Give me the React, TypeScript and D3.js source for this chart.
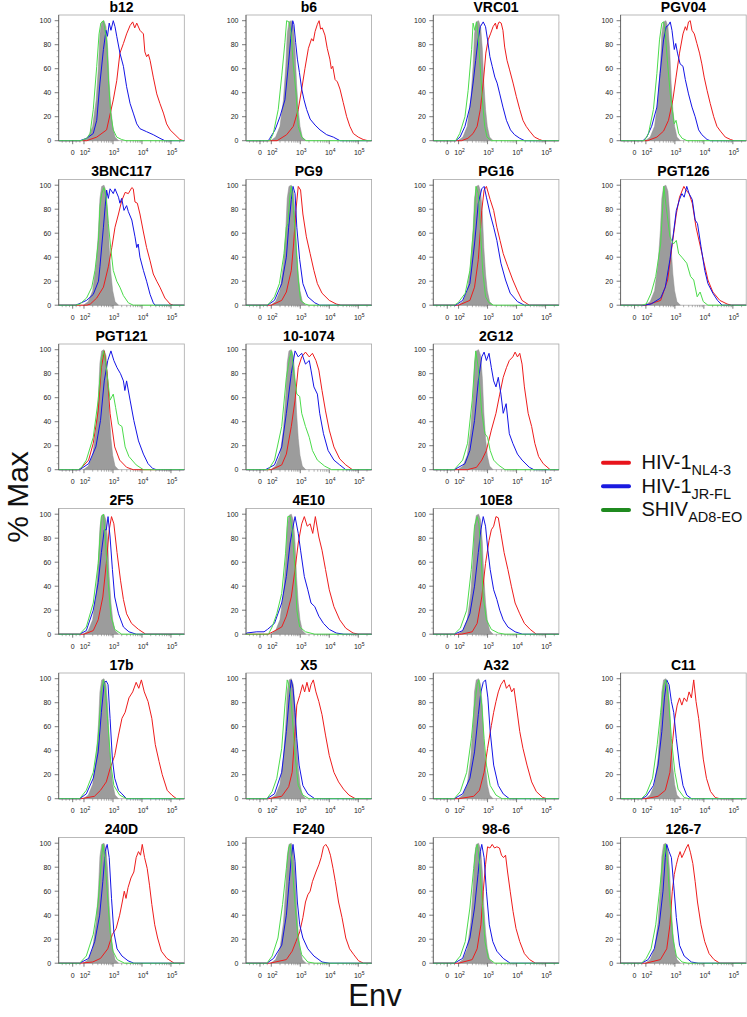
import React from 'react';
import * as d3 from 'd3';

type Pt = [number, number];

// x values are log10(Env fluorescence) display units, y values are % Max
const ENV_DOMAIN: [number, number] = [1.128, 5.46];
const ZERO_POS = 1.61;
const DECADES = [2, 3, 4, 5];
const Y_TICKS = [0, 20, 40, 60, 80, 100];

const LAYOUT: (string | null)[][] = [
  ['b12', 'b6', 'VRC01', 'PGV04'],
  ['3BNC117', 'PG9', 'PG16', 'PGT126'],
  ['PGT121', '10-1074', '2G12', null],
  ['2F5', '4E10', '10E8', null],
  ['17b', 'X5', 'A32', 'C11'],
  ['240D', 'F240', '98-6', '126-7'],
];

const GRAY: Pt[] = [[1.98,0],[2.15,3],[2.30,12],[2.42,34],[2.50,62],[2.55,89],[2.61,99],[2.69,100],[2.76,95],[2.82,76],[2.87,48],[2.93,26],[2.99,12],[3.07,3],[3.19,0]];

const B12_GREEN: Pt[] = [[1.9,0],[2.09,2],[2.21,6],[2.32,26],[2.44,62],[2.52,89],[2.58,98],[2.67,100],[2.78,84],[2.85,48],[2.92,23],[3.01,9],[3.13,3],[3.30,1],[3.45,0]];
const B12_BLUE: Pt[] = [[1.86,0],[2.09,2],[2.32,6],[2.44,17],[2.55,48],[2.67,76],[2.76,92],[2.81,87],[2.87,98],[2.93,92],[3.01,100],[3.07,95],[3.13,87],[3.24,73],[3.36,62],[3.47,45],[3.59,31],[3.70,23],[3.82,14],[3.93,10],[4.16,7.5],[4.39,5],[4.62,2],[4.79,0]];
const B12_RED: Pt[] = [[2.09,0],[2.44,3],[2.78,9],[3.01,34],[3.13,50],[3.24,73],[3.36,81],[3.47,89],[3.59,96],[3.68,99],[3.75,94],[3.82,98],[3.93,92],[4.05,89],[4.10,74],[4.16,70],[4.22,72],[4.28,67],[4.39,53],[4.51,39],[4.62,31],[4.74,23],[4.85,14],[4.97,9],[5.14,5],[5.31,1],[5.43,0]];

const B6_GREEN: Pt[] = [[1.95,0],[2.07,6],[2.24,26],[2.36,54],[2.47,82],[2.53,100],[2.61,99],[2.68,91],[2.76,63],[2.85,40],[2.93,12],[3.05,3],[3.2,0]];
const B6_BLUE: Pt[] = [[1.9,0],[1.95,2],[2.13,9],[2.30,20],[2.47,34],[2.59,63],[2.67,85],[2.74,100],[2.78,97],[2.84,82],[2.90,68],[2.97,57],[3.05,43],[3.13,34],[3.22,26],[3.34,18],[3.51,13],[3.68,9],[3.91,5],[4.14,3],[4.37,0]];
const B6_RED: Pt[] = [[2.2,0],[2.53,5],[2.76,12],[2.93,26],[3.05,43],[3.16,60],[3.28,77],[3.39,85],[3.45,83],[3.51,91],[3.59,97],[3.65,100],[3.70,93],[3.76,94],[3.85,88],[3.93,77],[4.02,68],[4.07,60],[4.12,62],[4.20,51],[4.28,49],[4.37,43],[4.48,32],[4.60,20],[4.71,12],[4.83,6],[5.0,3],[5.17,1],[5.33,0]];

const VRC01_GREEN: Pt[] = [[1.9,0],[2.04,6],[2.22,20],[2.33,42],[2.45,76],[2.50,98],[2.56,92],[2.62,99],[2.67,89],[2.73,67],[2.82,34],[2.90,12],[2.98,3],[3.13,0]];
const VRC01_BLUE: Pt[] = [[1.9,0],[2.05,3],[2.22,12],[2.39,28],[2.50,48],[2.59,67],[2.67,84],[2.75,95],[2.85,99],[2.93,95],[3.0,84],[3.08,70],[3.16,62],[3.25,53],[3.33,48],[3.42,39],[3.53,28],[3.65,17],[3.79,9],[3.93,5],[4.11,2],[4.28,0]];
const VRC01_RED: Pt[] = [[2.1,0],[2.32,2],[2.50,6],[2.64,12],[2.75,26],[2.85,48],[2.94,73],[3.02,84],[3.10,89],[3.19,95],[3.27,98],[3.32,93],[3.36,97],[3.40,99],[3.47,98],[3.53,92],[3.59,78],[3.67,67],[3.76,59],[3.88,48],[3.99,37],[4.11,26],[4.22,17],[4.33,12],[4.45,8],[4.62,3],[4.79,1],[4.9,0]];

const PGV04_GREEN: Pt[] = [[1.95,0],[2.09,6],[2.26,26],[2.38,56],[2.47,84],[2.55,98],[2.61,99],[2.66,92],[2.74,67],[2.84,39],[2.91,26],[2.98,14],[3.04,17],[3.13,6],[3.25,2],[3.42,0]];
const PGV04_BLUE: Pt[] = [[1.9,0],[2.03,3],[2.20,12],[2.38,28],[2.49,56],[2.61,84],[2.70,95],[2.77,96],[2.84,99],[2.90,92],[2.98,76],[3.03,81],[3.09,73],[3.18,64],[3.28,62],[3.36,51],[3.47,39],[3.59,28],[3.70,20],[3.82,9],[3.93,5],[4.11,1],[4.22,0]];
const PGV04_RED: Pt[] = [[2.05,0],[2.38,3],[2.61,8],[2.78,17],[2.93,34],[3.04,53],[3.16,73],[3.28,89],[3.36,95],[3.41,92],[3.47,99],[3.53,100],[3.59,92],[3.67,89],[3.76,81],[3.85,73],[3.93,64],[4.01,53],[4.11,42],[4.22,31],[4.34,20],[4.45,12],[4.57,8],[4.74,3],[4.92,1],[5.04,0]];

const BNC_GREEN: Pt[] = [[1.7,0],[1.86,1],[2.09,6],[2.27,15],[2.38,29],[2.50,54],[2.55,82],[2.61,93],[2.69,98],[2.76,90],[2.84,68],[2.93,46],[3.01,29],[3.13,20],[3.24,15],[3.36,8],[3.53,2],[3.70,0]];
const BNC_BLUE: Pt[] = [[1.7,0],[1.81,1],[2.09,4],[2.32,9],[2.50,20],[2.55,32],[2.67,65],[2.73,82],[2.78,96],[2.84,89],[2.90,97],[3.01,93],[3.07,97],[3.19,90],[3.24,85],[3.30,89],[3.38,79],[3.47,83],[3.53,78],[3.65,71],[3.76,57],[3.82,48],[3.87,51],[3.93,40],[4.05,29],[4.16,20],[4.28,9],[4.39,2],[4.45,0]];
const BNC_RED: Pt[] = [[2.1,0],[2.22,1],[2.44,6],[2.67,15],[2.84,32],[2.96,48],[3.07,65],[3.19,76],[3.30,87],[3.42,94],[3.53,93],[3.65,98],[3.70,97],[3.76,86],[3.84,85],[3.93,76],[4.05,61],[4.16,48],[4.28,37],[4.39,26],[4.51,20],[4.62,15],[4.79,6],[4.97,1],[5.08,0]];

const PG9_GREEN: Pt[] = [[1.85,0],[1.95,2],[2.11,7],[2.28,18],[2.44,43],[2.52,65],[2.57,68],[2.65,93],[2.70,99],[2.77,79],[2.85,51],[2.93,21],[3.01,4],[3.17,1],[3.3,0]];
const PG9_BLUE: Pt[] = [[1.87,0],[2.11,4],[2.36,18],[2.52,40],[2.60,65],[2.69,88],[2.75,99],[2.82,93],[2.88,65],[2.98,38],[3.09,18],[3.26,7],[3.50,2],[3.67,0]];
const PG9_RED: Pt[] = [[2.0,0],[2.36,4],[2.52,11],[2.69,29],[2.77,51],[2.85,79],[2.93,99],[3.01,96],[3.09,76],[3.21,57],[3.34,43],[3.47,29],[3.59,18],[3.75,10],[4.0,4],[4.24,1],[4.4,0]];

const PG16_GREEN: Pt[] = [[1.85,0],[1.98,2],[2.23,10],[2.39,29],[2.52,65],[2.60,99],[2.68,93],[2.75,65],[2.83,29],[2.93,7],[3.05,2],[3.21,0]];
const PG16_BLUE: Pt[] = [[1.9,0],[2.14,4],[2.39,18],[2.55,51],[2.68,85],[2.80,97],[2.88,99],[2.96,90],[3.09,76],[3.21,65],[3.32,54],[3.46,35],[3.62,21],[3.78,10],[4.03,3],[4.27,0]];
const PG16_RED: Pt[] = [[2.0,0],[2.39,4],[2.55,15],[2.68,38],[2.80,79],[2.88,96],[2.96,99],[3.09,88],[3.21,79],[3.32,65],[3.43,54],[3.54,43],[3.70,32],[3.87,21],[4.03,12],[4.19,4],[4.44,0]];

const PGT126_GREEN: Pt[] = [[1.85,0],[2.01,1],[2.18,10],[2.34,24],[2.51,51],[2.62,99],[2.70,82],[2.83,57],[2.95,51],[3.05,54],[3.13,43],[3.24,40],[3.41,35],[3.54,24],[3.65,21],[3.77,7],[3.87,11],[3.98,3],[4.14,0]];
const PGT126_BLUE: Pt[] = [[1.9,0],[2.18,1],[2.51,6],[2.67,15],[2.83,38],[2.95,60],[3.05,79],[3.16,88],[3.24,93],[3.32,90],[3.41,99],[3.49,93],[3.60,88],[3.70,71],[3.78,68],[3.90,49],[4.03,29],[4.14,18],[4.31,10],[4.47,4],[4.63,0]];
const PGT126_RED: Pt[] = [[2.0,0],[2.51,4],[2.75,21],[2.91,51],[3.05,76],[3.16,90],[3.21,93],[3.31,99],[3.38,96],[3.49,93],[3.60,85],[3.73,65],[3.86,51],[3.98,38],[4.14,21],[4.31,11],[4.55,4],[4.8,1],[4.95,0]];

const PGT121_GREEN: Pt[] = [[1.8,0],[1.92,2],[2.08,8],[2.32,27],[2.49,58],[2.60,91],[2.68,99],[2.77,85],[2.90,58],[3.01,63],[3.09,52],[3.19,38],[3.31,36],[3.42,19],[3.55,11],[3.80,4],[4.05,0]];
const PGT121_BLUE: Pt[] = [[1.85,0],[2.16,5],[2.41,19],[2.57,41],[2.70,74],[2.82,91],[2.93,99],[3.03,91],[3.14,85],[3.26,80],[3.36,74],[3.41,66],[3.47,74],[3.59,58],[3.72,41],[3.88,24],[4.05,13],[4.21,5],[4.37,1],[4.5,0]];
const PGT121_RED: Pt[] = [[1.85,0],[2.16,8],[2.32,22],[2.49,49],[2.60,85],[2.70,99],[2.80,80],[2.90,47],[3.06,19],[3.23,8],[3.47,2],[3.7,0]];

const X1074_GREEN: Pt[] = [[1.9,0],[2.11,8],[2.36,36],[2.52,77],[2.64,94],[2.70,99],[2.78,80],[2.88,63],[2.98,61],[3.05,47],[3.18,36],[3.31,27],[3.42,16],[3.59,8],[3.84,3],[4.08,0]];
const X1074_BLUE: Pt[] = [[1.8,0],[2.11,4],[2.36,19],[2.52,47],[2.69,80],[2.82,99],[2.93,94],[3.05,97],[3.18,88],[3.31,91],[3.37,83],[3.47,69],[3.59,63],[3.67,47],[3.80,30],[3.96,16],[4.16,8],[4.36,4],[4.57,0]];
const X1074_RED: Pt[] = [[2.0,0],[2.36,4],[2.52,13],[2.69,36],[2.82,58],[2.93,85],[3.05,94],[3.18,98],[3.31,94],[3.42,97],[3.54,91],[3.64,83],[3.75,66],[3.87,49],[4.0,33],[4.16,19],[4.36,9],[4.57,4],[4.8,0]];

const G12_GREEN: Pt[] = [[1.85,0],[2.14,8],[2.31,22],[2.47,58],[2.59,99],[2.68,85],[2.80,47],[2.91,30],[3.0,27],[3.09,16],[3.21,8],[3.37,4],[3.6,0]];
const G12_BLUE: Pt[] = [[1.85,0],[2.22,5],[2.39,16],[2.55,41],[2.68,74],[2.80,94],[2.88,98],[2.96,91],[3.05,97],[3.13,85],[3.21,74],[3.29,69],[3.37,77],[3.46,63],[3.54,47],[3.64,55],[3.75,30],[3.87,22],[4.03,13],[4.19,8],[4.44,2],[4.6,0]];
const G12_RED: Pt[] = [[2.3,0],[2.62,2],[2.80,8],[2.96,16],[3.13,33],[3.29,47],[3.42,63],[3.54,77],[3.65,85],[3.75,91],[3.87,94],[3.95,98],[4.03,94],[4.11,97],[4.19,88],[4.27,69],[4.40,47],[4.52,36],[4.63,22],[4.76,11],[4.92,5],[5.16,0]];

const F5_GREEN: Pt[] = [[1.85,0],[2.08,6],[2.32,26],[2.49,59],[2.60,98],[2.67,100],[2.73,81],[2.83,45],[2.93,15],[3.06,4],[3.3,0]];
const F5_BLUE: Pt[] = [[1.85,0],[2.08,3],[2.32,20],[2.49,43],[2.60,68],[2.70,87],[2.77,87],[2.83,98],[2.90,81],[2.98,54],[3.06,31],[3.19,17],[3.36,6],[3.55,2],[3.8,0]];
const F5_RED: Pt[] = [[2.0,0],[2.32,3],[2.49,12],[2.65,31],[2.77,59],[2.87,87],[2.95,98],[3.03,92],[3.14,68],[3.26,45],[3.36,29],[3.47,17],[3.64,9],[3.88,4],[4.13,0]];

const E10_GREEN: Pt[] = [[1.9,0],[2.03,6],[2.19,17],[2.36,34],[2.49,67],[2.57,98],[2.65,98],[2.72,87],[2.82,54],[2.88,20],[2.98,6],[3.18,2],[3.5,0]];
const E10_BLUE: Pt[] = [[1.15,1],[1.5,2],[1.75,2],[1.87,4],[2.11,9],[2.36,26],[2.52,48],[2.65,76],[2.73,87],[2.82,98],[2.93,84],[3.01,70],[3.14,48],[3.26,37],[3.37,26],[3.50,23],[3.64,15],[3.80,9],[4.0,4],[4.24,1],[4.5,0]];
const E10_RED: Pt[] = [[1.9,0],[2.36,6],[2.52,15],[2.69,31],[2.82,54],[2.93,76],[3.05,92],[3.14,98],[3.24,90],[3.34,92],[3.43,84],[3.52,98],[3.64,81],[3.75,70],[3.87,54],[4.0,37],[4.16,23],[4.36,12],[4.57,5],[4.82,1],[5.0,0]];

const E8_GREEN: Pt[] = [[1.85,0],[2.06,5],[2.28,20],[2.44,54],[2.55,90],[2.64,98],[2.70,92],[2.77,68],[2.85,31],[2.96,12],[3.13,4],[3.37,1],[3.6,0]];
const E8_BLUE: Pt[] = [[1.85,0],[2.14,3],[2.39,17],[2.55,40],[2.68,68],[2.77,87],[2.85,98],[2.93,90],[3.01,70],[3.09,54],[3.21,37],[3.32,29],[3.42,20],[3.54,12],[3.70,6],[3.95,2],[4.2,0]];
const E8_RED: Pt[] = [[2.1,0],[2.47,2],[2.64,9],[2.80,31],[2.93,59],[3.05,78],[3.13,87],[3.21,90],[3.29,98],[3.37,97],[3.46,84],[3.57,68],[3.70,54],[3.82,40],[3.95,26],[4.11,17],[4.27,9],[4.47,4],[4.68,0]];

const B17_GREEN: Pt[] = [[1.85,0],[2.08,7],[2.32,22],[2.49,50],[2.60,89],[2.67,99],[2.73,92],[2.83,61],[2.93,28],[3.03,11],[3.23,3],[3.47,0]];
const B17_BLUE: Pt[] = [[1.85,0],[2.08,4],[2.32,17],[2.49,39],[2.60,72],[2.70,97],[2.77,98],[2.83,95],[2.90,67],[2.98,33],[3.06,17],[3.19,7],[3.31,4],[3.47,0]];
const B17_RED: Pt[] = [[1.9,0],[2.36,2],[2.57,7],[2.77,14],[2.90,25],[3.06,36],[3.19,53],[3.31,67],[3.42,72],[3.55,84],[3.68,89],[3.80,97],[3.89,92],[3.98,99],[4.08,89],[4.21,81],[4.34,67],[4.46,45],[4.59,31],[4.70,20],[4.87,7],[5.03,3],[5.19,0]];

const X5_GREEN: Pt[] = [[1.85,0],[2.03,6],[2.19,17],[2.36,42],[2.47,78],[2.55,99],[2.64,92],[2.72,70],[2.82,36],[2.93,11],[3.09,3],[3.3,0]];
const X5_BLUE: Pt[] = [[1.85,0],[2.11,4],[2.36,22],[2.52,56],[2.62,84],[2.69,99],[2.75,92],[2.82,72],[2.88,50],[2.96,28],[3.09,11],[3.26,4],[3.5,0]];
const X5_RED: Pt[] = [[1.9,0],[2.36,2],[2.60,10],[2.72,22],[2.82,56],[2.88,78],[2.98,86],[3.08,95],[3.15,89],[3.23,97],[3.31,89],[3.37,95],[3.45,99],[3.54,89],[3.64,81],[3.75,70],[3.87,53],[4.0,36],[4.16,22],[4.32,14],[4.49,8],[4.68,3],[4.9,0]];

const A32_GREEN: Pt[] = [[1.85,0],[2.06,6],[2.28,22],[2.44,50],[2.55,78],[2.64,95],[2.70,99],[2.80,78],[2.88,50],[2.96,28],[3.09,11],[3.29,3],[3.5,0]];
const A32_BLUE: Pt[] = [[1.85,0],[2.14,4],[2.39,17],[2.55,39],[2.68,70],[2.77,89],[2.85,97],[2.93,99],[3.01,84],[3.09,56],[3.21,28],[3.37,11],[3.54,4],[3.75,0]];
const A32_RED: Pt[] = [[2.0,0],[2.52,2],[2.72,7],[2.88,22],[3.0,42],[3.13,61],[3.21,72],[3.29,81],[3.37,89],[3.46,95],[3.57,99],[3.65,92],[3.75,95],[3.83,89],[3.91,92],[3.99,78],[4.11,56],[4.22,42],[4.36,28],[4.52,14],[4.68,6],[4.90,1],[5.05,0]];

const C11_GREEN: Pt[] = [[1.85,0],[2.01,4],[2.23,17],[2.39,45],[2.51,72],[2.62,95],[2.69,99],[2.78,84],[2.88,50],[3.0,22],[3.11,8],[3.32,1],[3.5,0]];
const C11_BLUE: Pt[] = [[1.85,0],[2.01,2],[2.26,11],[2.42,28],[2.55,56],[2.64,84],[2.72,99],[2.80,95],[2.88,81],[2.96,72],[3.05,50],[3.16,28],[3.28,11],[3.41,3],[3.57,0]];
const C11_RED: Pt[] = [[2.0,0],[2.42,2],[2.67,7],[2.83,22],[2.91,45],[3.0,67],[3.08,78],[3.16,84],[3.24,78],[3.32,84],[3.41,81],[3.49,89],[3.57,84],[3.65,99],[3.73,81],[3.82,67],[3.90,50],[3.98,33],[4.09,17],[4.23,6],[4.39,1],[4.55,0]];

const D240_GREEN: Pt[] = [[1.85,0],[2.08,6],[2.32,24],[2.49,51],[2.59,82],[2.65,99],[2.72,88],[2.80,60],[2.90,26],[3.0,10],[3.15,3],[3.4,0]];
const D240_BLUE: Pt[] = [[1.85,0],[2.16,4],[2.37,18],[2.54,40],[2.65,68],[2.73,93],[2.80,99],[2.87,88],[2.95,54],[3.03,26],[3.14,12],[3.31,6],[3.52,2],[3.72,0]];
const D240_RED: Pt[] = [[1.85,0],[2.3,1],[2.57,4],[2.82,12],[2.98,24],[3.11,29],[3.23,40],[3.32,51],[3.39,60],[3.45,54],[3.52,63],[3.62,71],[3.72,76],[3.80,88],[3.88,93],[3.95,90],[4.01,99],[4.09,88],[4.18,79],[4.26,65],[4.34,49],[4.44,32],[4.54,21],[4.67,10],[4.86,4],[5.11,0]];

const F240_GREEN: Pt[] = [[1.85,0],[2.03,6],[2.23,21],[2.39,49],[2.52,79],[2.60,96],[2.65,99],[2.72,82],[2.82,49],[2.92,21],[3.05,7],[3.26,1],[3.5,0]];
const F240_BLUE: Pt[] = [[1.85,0],[2.08,4],[2.36,15],[2.52,40],[2.62,68],[2.69,88],[2.75,99],[2.82,85],[2.90,51],[2.98,32],[3.09,21],[3.26,12],[3.47,6],[3.75,1],[4.0,0]];
const F240_RED: Pt[] = [[1.95,0],[2.52,3],[2.72,10],[2.85,18],[2.98,26],[3.09,38],[3.18,51],[3.26,57],[3.34,60],[3.42,68],[3.54,76],[3.64,82],[3.72,88],[3.80,97],[3.88,99],[3.96,96],[4.04,90],[4.13,79],[4.21,68],[4.32,51],[4.44,38],[4.57,21],[4.70,12],[4.85,7],[5.01,2],[5.18,0]];

const S986_GREEN: Pt[] = [[1.85,0],[2.06,6],[2.23,18],[2.39,46],[2.52,79],[2.60,96],[2.65,99],[2.73,82],[2.82,49],[2.91,18],[3.03,4],[3.25,0]];
const S986_BLUE: Pt[] = [[1.85,0],[2.14,4],[2.39,21],[2.55,46],[2.67,74],[2.75,93],[2.80,99],[2.88,88],[2.96,60],[3.06,32],[3.18,18],[3.32,10],[3.54,4],[3.78,0]];
const S986_RED: Pt[] = [[2.0,0],[2.47,3],[2.64,12],[2.77,32],[2.85,60],[2.93,82],[3.0,97],[3.08,96],[3.16,99],[3.24,96],[3.32,97],[3.41,96],[3.48,90],[3.55,88],[3.62,90],[3.69,76],[3.78,60],[3.88,43],[3.98,29],[4.11,18],[4.27,8],[4.45,3],[4.65,0]];

const S1267_GREEN: Pt[] = [[1.85,0],[2.01,4],[2.18,12],[2.34,32],[2.47,60],[2.59,88],[2.67,99],[2.75,82],[2.83,51],[2.93,21],[3.05,6],[3.25,1],[3.45,0]];
const S1267_BLUE: Pt[] = [[1.85,0],[2.08,3],[2.29,12],[2.46,32],[2.59,60],[2.67,88],[2.72,99],[2.80,93],[2.88,88],[2.96,65],[3.05,38],[3.16,15],[3.32,6],[3.57,1],[3.8,0]];
const S1267_RED: Pt[] = [[2.0,0],[2.5,3],[2.72,12],[2.83,32],[2.91,60],[2.98,74],[3.05,82],[3.11,88],[3.18,93],[3.24,88],[3.32,92],[3.39,96],[3.46,99],[3.54,92],[3.62,83],[3.70,68],[3.78,51],[3.90,32],[4.03,18],[4.18,8],[4.35,3],[4.55,0]];

const SERIES: Record<string, { red: Pt[]; blue: Pt[]; green: Pt[] }> = {
  'b12': { red: B12_RED, blue: B12_BLUE, green: B12_GREEN },
  'b6': { red: B6_RED, blue: B6_BLUE, green: B6_GREEN },
  'VRC01': { red: VRC01_RED, blue: VRC01_BLUE, green: VRC01_GREEN },
  'PGV04': { red: PGV04_RED, blue: PGV04_BLUE, green: PGV04_GREEN },
  '3BNC117': { red: BNC_RED, blue: BNC_BLUE, green: BNC_GREEN },
  'PG9': { red: PG9_RED, blue: PG9_BLUE, green: PG9_GREEN },
  'PG16': { red: PG16_RED, blue: PG16_BLUE, green: PG16_GREEN },
  'PGT126': { red: PGT126_RED, blue: PGT126_BLUE, green: PGT126_GREEN },
  'PGT121': { red: PGT121_RED, blue: PGT121_BLUE, green: PGT121_GREEN },
  '10-1074': { red: X1074_RED, blue: X1074_BLUE, green: X1074_GREEN },
  '2G12': { red: G12_RED, blue: G12_BLUE, green: G12_GREEN },
  '2F5': { red: F5_RED, blue: F5_BLUE, green: F5_GREEN },
  '4E10': { red: E10_RED, blue: E10_BLUE, green: E10_GREEN },
  '10E8': { red: E8_RED, blue: E8_BLUE, green: E8_GREEN },
  '17b': { red: B17_RED, blue: B17_BLUE, green: B17_GREEN },
  'X5': { red: X5_RED, blue: X5_BLUE, green: X5_GREEN },
  'A32': { red: A32_RED, blue: A32_BLUE, green: A32_GREEN },
  'C11': { red: C11_RED, blue: C11_BLUE, green: C11_GREEN },
  '240D': { red: D240_RED, blue: D240_BLUE, green: D240_GREEN },
  'F240': { red: F240_RED, blue: F240_BLUE, green: F240_GREEN },
  '98-6': { red: S986_RED, blue: S986_BLUE, green: S986_GREEN },
  '126-7': { red: S1267_RED, blue: S1267_BLUE, green: S1267_GREEN },
};

const LEGEND = [
  { main: 'HIV-1', sub: 'NL4-3', color: '#e8141c' },
  { main: 'HIV-1', sub: 'JR-FL', color: '#1a1ae0' },
  { main: 'SHIV', sub: 'AD8-EO', color: '#1f8a1f' },
];

const FONT = '"Liberation Sans", Arial, Helvetica, sans-serif';
const C_RED = '#ee1c1c';
const C_BLUE = '#1414e6';
const C_GREEN = '#4cdc4c';
const C_GRAY = '#9c9c9c';

const COL_X0 = 58.7;
const COL_STEP = 187.3;
const PLOT_W = 125.6;
const ROW_Y0 = 140.7;
const ROW_STEP = 164.5;
const PLOT_H = 120;
const TOP_PAD = 5.7;

function extend(pts: Pt[]): Pt[] {
  return [[ENV_DOMAIN[0], 0], ...pts, [ENV_DOMAIN[1], 0]];
}

function Panel({ name, r, c }: { name: string; r: number; c: number }) {
  const left = COL_X0 + COL_STEP * c;
  const bottom = ROW_Y0 + ROW_STEP * r;
  const x = d3.scaleLinear().domain(ENV_DOMAIN).range([left, left + PLOT_W]);
  const y = d3.scaleLinear().domain([0, 100]).range([bottom, bottom - PLOT_H]);
  const top = y(100) - TOP_PAD;
  const line = d3.line<Pt>().x(d => x(d[0])).y(d => y(d[1]));
  const area = d3.area<Pt>().x(d => x(d[0])).y0(y(0)).y1(d => y(d[1]));
  const s = SERIES[name];

  const yMinor = d3.range(0, 101, 5).filter(v => v % 20 !== 0);
  const xMinor: number[] = [];
  for (let d = 2; d <= 5; d++) {
    for (let k = 2; k <= 9; k++) {
      const v = d + Math.log10(k);
      if (v < ENV_DOMAIN[1]) xMinor.push(v);
    }
  }
  const linMinor = [1.25, 1.38, 1.50, 1.73, 1.86];

  return (
    <g>
      <text x={(left + left + PLOT_W) / 2} y={top - 3.3} textAnchor="middle" fontFamily={FONT} fontWeight="bold" fontSize={14} fill="#000">{name}</text>
      <rect x={left} y={top} width={PLOT_W} height={bottom - top} fill="#fff" stroke="#a8a8a8" strokeWidth={0.8} />
      <path d={area(GRAY) || ''} fill={C_GRAY} stroke="#8c8c8c" strokeWidth={0.5} />
      <path d={line(extend(s.red)) || ''} fill="none" stroke={C_RED} strokeWidth={1} strokeLinejoin="round" />
      <path d={line(extend(s.blue)) || ''} fill="none" stroke={C_BLUE} strokeWidth={1} strokeLinejoin="round" />
      <path d={line(extend(s.green)) || ''} fill="none" stroke={C_GREEN} strokeWidth={1} strokeLinejoin="round" />
      <line x1={left} x2={left} y1={top} y2={bottom} stroke="#555" strokeWidth={0.8} />
      {Y_TICKS.map(v => (
        <g key={'y' + v}>
          <line x1={left - 4} x2={left} y1={y(v)} y2={y(v)} stroke="#444" strokeWidth={0.7} />
          <text x={left - 7.5} y={y(v) + 2.5} textAnchor="end" fontFamily={FONT} fontSize={7} fill="#222">{v}</text>
        </g>
      ))}
      {yMinor.map(v => (
        <line key={'ym' + v} x1={left - 2} x2={left} y1={y(v)} y2={y(v)} stroke="#666" strokeWidth={0.5} />
      ))}
      {[ZERO_POS, ...DECADES].map(v => (
        <line key={'xM' + v} x1={x(v)} x2={x(v)} y1={bottom} y2={bottom + 3.5} stroke="#444" strokeWidth={0.7} />
      ))}
      {[...xMinor, ...linMinor].map(v => (
        <line key={'xm' + v} x1={x(v)} x2={x(v)} y1={bottom} y2={bottom + 2} stroke="#666" strokeWidth={0.5} />
      ))}
      <text x={x(ZERO_POS)} y={bottom + 14.5} textAnchor="middle" fontFamily={FONT} fontSize={7} fill="#222">0</text>
      {DECADES.map(v => (
        <text key={'xl' + v} x={x(v) + 1} y={bottom + 14.5} textAnchor="middle" fontFamily={FONT} fontSize={7} fill="#222">
          10<tspan fontSize={5} dy={-3}>{v}</tspan>
        </text>
      ))}
    </g>
  );
}

export default function App() {
  return (
    <svg width={747} height={1017} viewBox="0 0 747 1017" style={{ position: 'absolute', left: 0, top: 0, background: '#fff' }}>
      <rect x={0} y={0} width={747} height={1017} fill="#fff" />
      {LAYOUT.map((row, r) =>
        row.map((name, c) => (name ? <Panel key={name} name={name} r={r} c={c} /> : null))
      )}
      {LEGEND.map((d, i) => {
        const ly = 462.7 + i * 23.6;
        return (
          <g key={d.sub}>
            <line x1={603} x2={629} y1={ly} y2={ly} stroke={d.color} strokeWidth={4} strokeLinecap="round" />
            <text x={641.5} y={ly + 6.5} fontFamily={FONT} fontSize={20} fill="#111">
              {d.main}
              <tspan fontSize={14.5} dy={6}>{d.sub}</tspan>
            </text>
          </g>
        );
      })}
      <text transform="translate(28,497) rotate(-90)" textAnchor="middle" fontFamily={FONT} fontSize={30} fill="#111">% Max</text>
      <text x={375} y={1006} textAnchor="middle" fontFamily={FONT} fontSize={31} fill="#111">Env</text>
    </svg>
  );
}
